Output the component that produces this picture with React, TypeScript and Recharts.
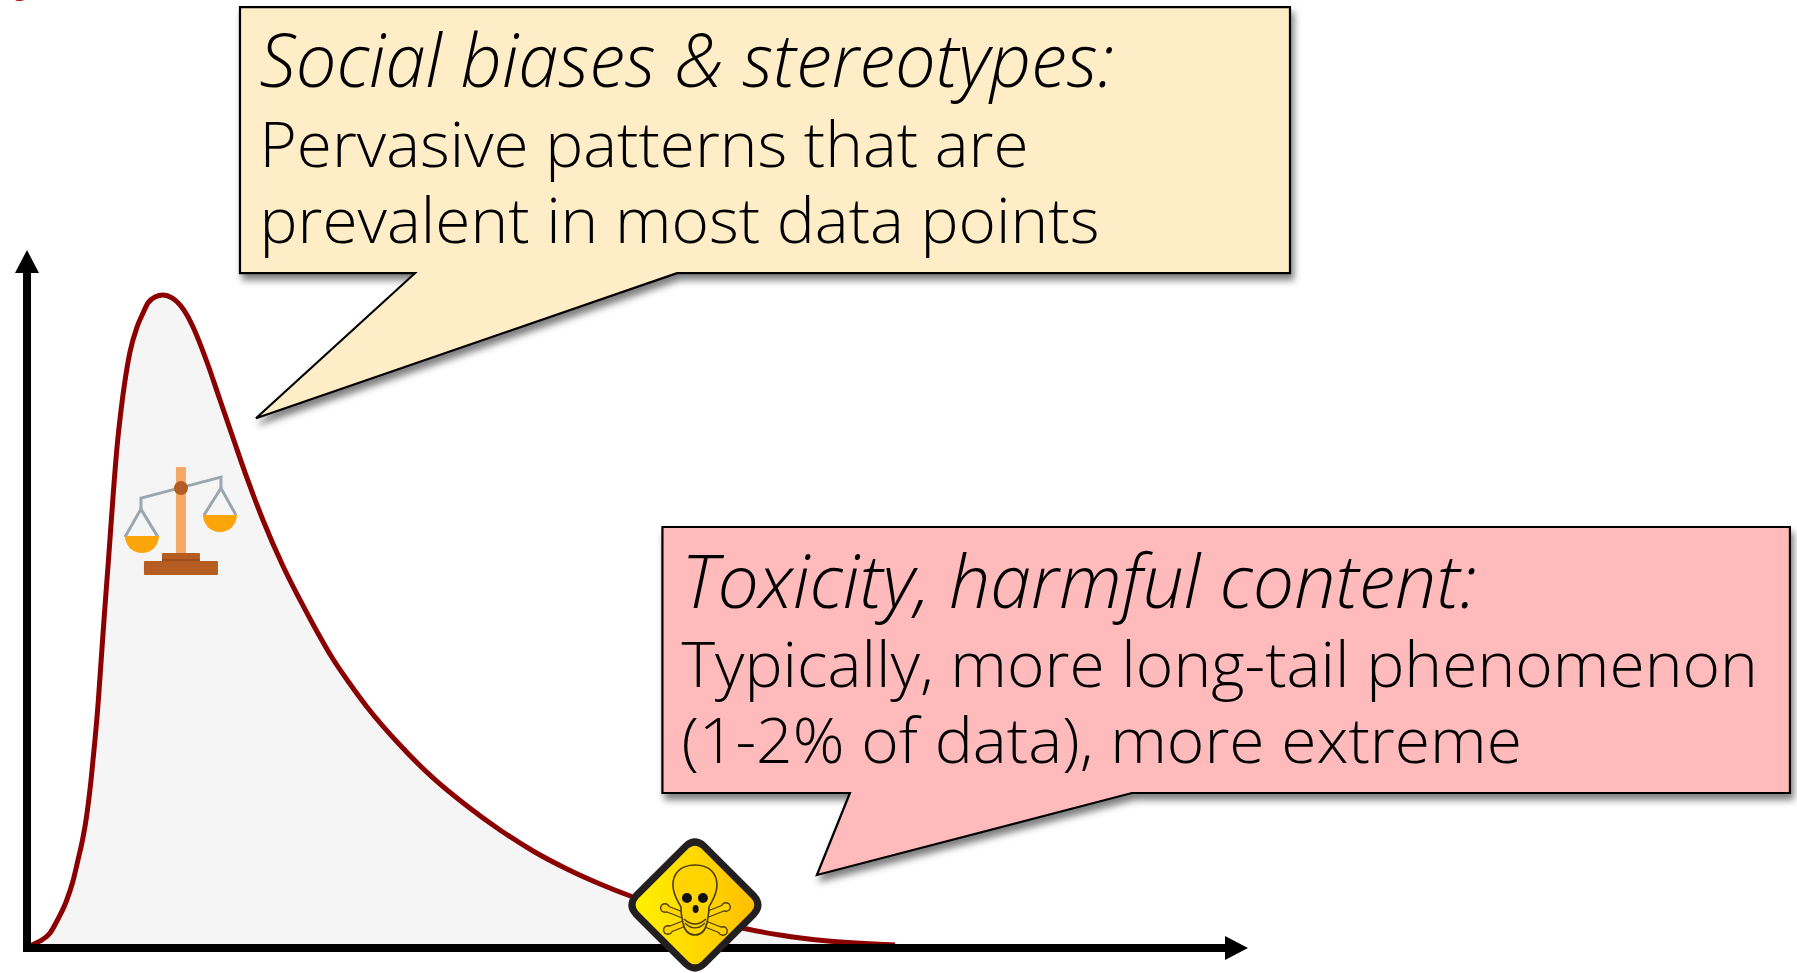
import React from "react";
import { ComposedChart, Area, XAxis, YAxis, ReferenceDot } from "recharts";

const WIDTH = 1797;
const HEIGHT = 973;
const X_MAX = 98.2;
const Y_MAX = 96.7;

const toxicity = [0, 0.33, 1.07, 1.89, 2.54, 3.2, 3.77, 4.18, 4.55, 4.84, 5.06, 5.25, 5.41, 5.57, 5.72, 5.85, 6.08, 6.31, 6.43, 6.66, 7.05, 7.38, 7.7, 8.03, 8.44, 9.02, 9.51, 9.92, 10.49, 11.15, 11.89, 12.54, 13.11, 13.61, 14.75, 15.82, 16.89, 18.03, 19.34, 20.98, 22.38, 23.61, 25.08, 26.48, 27.87, 30.57, 33.28, 36.07, 38.77, 41.48, 44.26, 46.97, 49.67, 54.34, 59.02, 61.72, 65.66, 71.15];
const density = [0, 0.35, 1.0, 2.15, 4.15, 6.59, 9.6, 12.61, 15.47, 18.34, 21.2, 24.07, 26.93, 29.8, 32.66, 35.53, 41.26, 46.99, 49.86, 55.16, 64.61, 71.78, 76.93, 81.23, 85.39, 88.97, 90.97, 92.41, 93.27, 93.55, 93.12, 92.12, 90.69, 88.97, 83.95, 78.51, 73.07, 67.34, 61.32, 54.73, 49.86, 45.85, 41.4, 37.82, 34.53, 29.08, 24.36, 20.34, 16.91, 13.9, 11.32, 9.17, 7.31, 4.73, 2.72, 1.86, 1.0, 0.43];
const rows = toxicity.map((x, i) => ({ x, y: density[i] }));

const biasTitle = "Social biases & stereotypes:";
const biasLines = ["Pervasive patterns that are", "prevalent in most data points"];
const toxicTitle = "Toxicity, harmful content:";
const toxicLines = ["Typically, more long-tail phenomenon", "(1-2% of data), more extreme"];
const clippedHeading = "y";

const FONT = "'Open Sans', sans-serif";

function Callout(props: any) {
  const { cx, cy, path, bg, id, title, lines, tx, ty, widths } = props;
  return (
    <g transform={`translate(${cx},${cy})`}>
      <defs>
        <filter id={id} x="-10%" y="-10%" width="120%" height="125%">
          <feDropShadow dx="3" dy="6" stdDeviation="3.5" floodColor="#000" floodOpacity="0.5" />
        </filter>
      </defs>
      <path d={path} fill={bg} stroke="#000" strokeWidth={2.2} strokeLinejoin="miter" filter={`url(#${id})`} />
      <text x={tx} y={ty[0]} fontFamily={FONT} fontWeight={300} fontStyle="italic" fontSize={74} fill="#000" textLength={widths[0]} lengthAdjust="spacingAndGlyphs">{title}</text>
      <text x={tx} y={ty[1]} fontFamily={FONT} fontWeight={300} fontSize={63} fill="#000" textLength={widths[1]} lengthAdjust="spacingAndGlyphs">{lines[0]}</text>
      <text x={tx} y={ty[2]} fontFamily={FONT} fontWeight={300} fontSize={63} fill="#000" textLength={widths[2]} lengthAdjust="spacingAndGlyphs">{lines[1]}</text>
    </g>
  );
}

function ScaleIcon({ cx, cy }: any) {
  const c1 = "#B55C22";
  const grey = "#9AA7AE";
  const pan = "#FCA50A";
  return (
    <g transform={`translate(${cx - 181},${cy - 520})`}>
      <rect x={176} y={467} width={10} height={87} rx={1} fill="#F4A966" />
      <polyline points="141,509 141,498 221,477 221,488" fill="none" stroke={grey} strokeWidth={3} />
      <polyline points="125,537 141,509 158,537" fill="none" stroke={grey} strokeWidth={3} />
      <polyline points="204,515 221,488 236,515" fill="none" stroke={grey} strokeWidth={3} />
      <path d="M125,536 H159 A17,17 0 0 1 125,536 Z" fill={pan} />
      <path d="M203,515 H237 A17,17 0 0 1 203,515 Z" fill={pan} />
      <circle cx={181} cy={488} r={7} fill={c1} />
      <rect x={162} y={553} width={38} height={9} rx={1} fill={c1} />
      <rect x={144} y={561} width={74} height={14} rx={1} fill={c1} />
      <rect x={162} y={559} width={38} height={2} fill="#9A4C1B" />
    </g>
  );
}

function SkullIcon({ cx, cy }: any) {
  const ink = "#4a3c00";
  const bone = (x1: number, y1: number, x2: number, y2: number) => (
    <g>
      <line x1={x1} y1={y1} x2={x2} y2={y2} stroke={ink} strokeWidth={7} strokeLinecap="round" />
      <circle cx={x1} cy={y1} r={5} fill={ink} />
      <circle cx={x2} cy={y2} r={5} fill={ink} />
      <line x1={x1} y1={y1} x2={x2} y2={y2} stroke="#FFD400" strokeWidth={4.6} strokeLinecap="round" />
      <circle cx={x1} cy={y1} r={3.6} fill="#FFD400" />
      <circle cx={x2} cy={y2} r={3.6} fill="#FFD400" />
    </g>
  );
  return (
    <g transform={`translate(${cx},${cy})`}>
      <defs>
        <linearGradient id="hazard" x1="0" x2="1" y1="0" y2="0">
          <stop offset="0" stopColor="#FFF200" />
          <stop offset="1" stopColor="#FFBE00" />
        </linearGradient>
      </defs>
      <path d="M-9,-59 Q0,-67 9,-59 L59,-9 Q67,0 59,9 L9,59 Q0,67 -9,59 L-59,9 Q-67,0 -59,-9 Z" fill="url(#hazard)" stroke="#231F20" strokeWidth={7} />
      {bone(-30, 3, 28, 26)}
      {bone(31, 2, -27, 25)}
      <path d="M0,-40 C-16,-40 -22,-30 -22,-20 C-22,-10 -17,-4 -14,2 C-14,10 -13,12 -12,18 C-10,27 -5,30 0,30 C5,30 10,27 12,18 C13,12 14,10 14,2 C17,-4 22,-10 22,-20 C22,-30 16,-40 0,-40 Z" fill="#FFD400" stroke={ink} strokeWidth={1.6} />
      <path d="M-11,14 Q0,24 11,14" fill="none" stroke={ink} strokeWidth={1.6} />
      <path d="M-10,18 Q0,28 10,18" fill="none" stroke={ink} strokeWidth={1.2} />
      <circle cx={-8} cy={-7} r={5} fill="#111" />
      <circle cx={8} cy={-7} r={5} fill="#111" />
      <ellipse cx={0.7} cy={4} rx={3} ry={4} fill="#111" />
    </g>
  );
}

function ArrowUp({ cx, cy }: any) {
  return (
    <g>
      <polygon points={`${cx - 12},${cy} ${cx + 12},${cy} ${cx},${cy - 23}`} fill="#000" />
      <text x={cx - 13} y={-11} fontFamily={FONT} fontWeight={700} fontSize={50} fill="#C00000">{clippedHeading}</text>
    </g>
  );
}
function ArrowRight({ cx, cy }: any) {
  return <polygon points={`${cx},${cy - 12} ${cx},${cy + 12} ${cx + 23},${cy}`} fill="#000" />;
}

export default function App() {
  return (
    <div style={{ position: "absolute", left: 0, top: 0, width: WIDTH, height: HEIGHT, overflow: "hidden", background: "#fff" }}>
      <ComposedChart width={WIDTH} height={HEIGHT} data={rows} margin={{ left: 26, top: 273, right: 572, bottom: 24 }}>
        <Area type="monotone" dataKey="y" stroke="#8B0000" strokeWidth={5} fill="#F5F5F5" fillOpacity={1} dot={false} activeDot={false} isAnimationActive={false} />
        <XAxis type="number" dataKey="x" domain={[0, X_MAX]} tick={false} tickLine={false} height={1} axisLine={{ stroke: "#000", strokeWidth: 8, strokeLinecap: "square" }} />
        <YAxis type="number" domain={[0, Y_MAX]} tick={false} tickLine={false} width={1} axisLine={{ stroke: "#000", strokeWidth: 8, strokeLinecap: "square" }} />
        <ReferenceDot x={X_MAX} y={0} ifOverflow="visible" shape={<ArrowRight />} />
        <ReferenceDot x={0} y={Y_MAX} ifOverflow="visible" shape={<ArrowUp />} />
        <ReferenceDot x={12.62} y={61.3} ifOverflow="visible" shape={<ScaleIcon />} />
        <ReferenceDot x={54.75} y={6.16} ifOverflow="visible" shape={<SkullIcon />} />
        <ReferenceDot x={18.77} y={75.9} ifOverflow="visible" shape={
          <Callout id="shadowA" bg="#FEEDC7" title={biasTitle} lines={biasLines}
            path="M-16,-411 H1034 V-145 H421 L0,0 L159,-145 H-16 Z"
            tx={3.5} ty={[-331, -251, -175]} widths={[854.5, 769, 840]} />
        } />
        <ReferenceDot x={64.75} y={10.46} ifOverflow="visible" shape={
          <Callout id="shadowB" bg="#FFBBBB" title={toxicTitle} lines={toxicLines}
            path="M-154.5,-348 H973 V-82 H315 L0,0 L33,-82 H-154.5 Z"
            tx={-135.5} ty={[-267, -188, -112]} widths={[795, 1076.5, 840.5]} />
        } />
      </ComposedChart>
    </div>
  );
}
